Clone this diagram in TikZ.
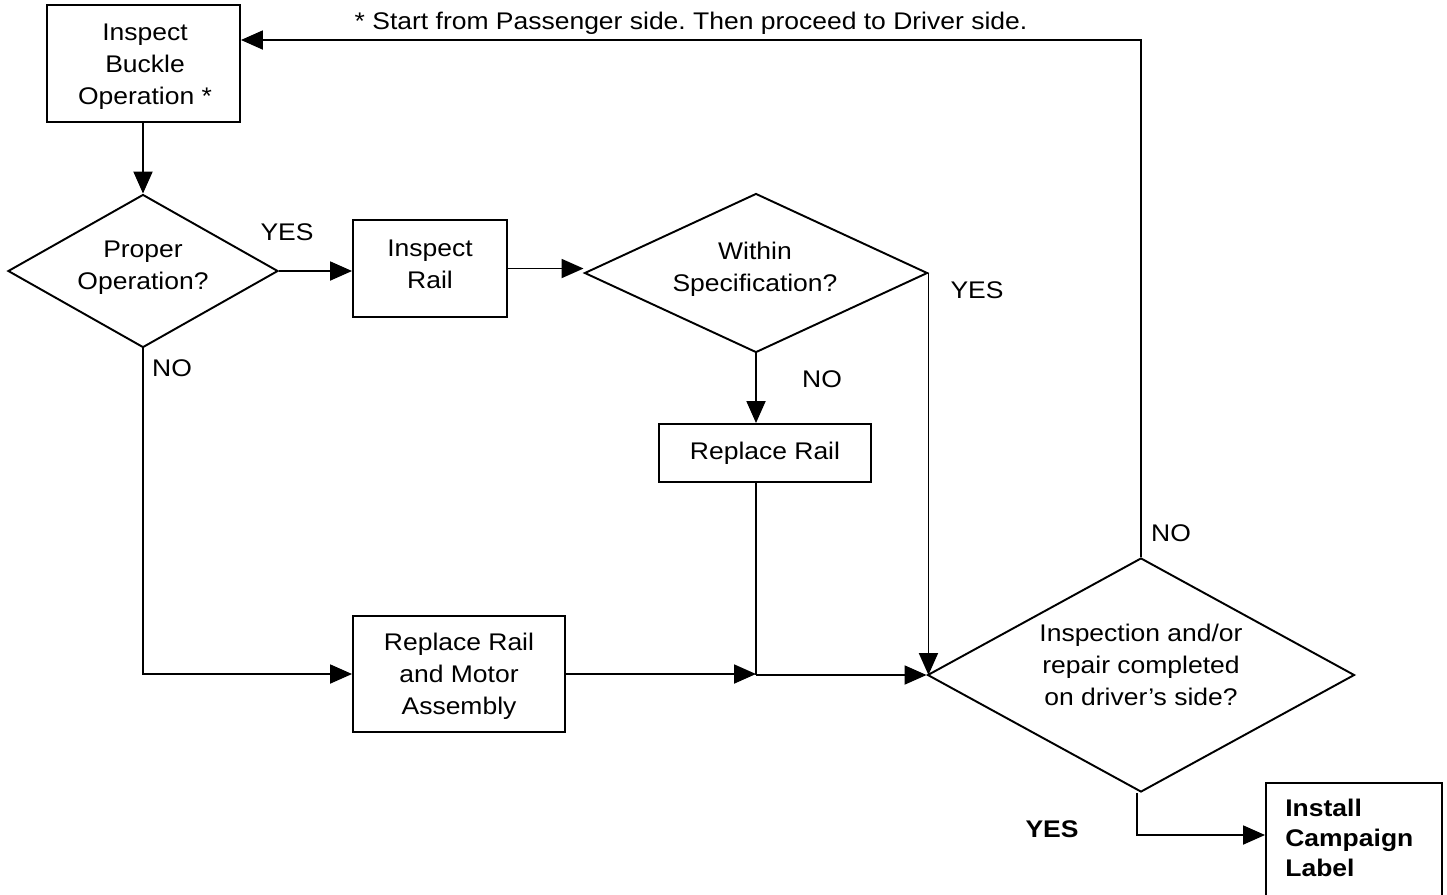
\documentclass[tikz,border=0pt]{standalone}
\usepackage{fontspec}
\setmainfont[FakeStretch=1.1]{Liberation Sans}
\usetikzlibrary{shapes.geometric,arrows.meta}
\frenchspacing
\begin{document}
\begin{tikzpicture}[x=0.02cm,y=-0.02cm,
  every node/.style={font=\fontsize{13.7}{18.2}\selectfont},
  box/.style={draw,line width=1.1pt,rectangle,inner sep=0pt},
  dia/.style={draw,line width=1.1pt,diamond,inner sep=0pt},
  txt/.style={align=center,inner sep=0pt},
  lbl/.style={inner sep=0pt},
  conn/.style={line width=1.1pt},
  arr/.style={line width=1.1pt,-{Triangle[length=0.44cm,width=0.38cm]}}]
\path[use as bounding box] (0,0) rectangle (1447,894);
% boxes
\node[box,minimum width=193*0.02cm,minimum height=117*0.02cm] (b1) at (143.5,63.5) {};
\node[txt] (b1t) at (145,67) {Inspect\\Buckle\\Operation *};
\node[box,minimum width=154*0.02cm,minimum height=97*0.02cm] (b2) at (430,268.5) {};
\node[txt] (b2t) at (430,264.5) {Inspect\\Rail};
\node[box,minimum width=212*0.02cm,minimum height=58*0.02cm] (b3) at (765,453) {};
\node[txt] (b3t) at (765,453.5) {Replace Rail};
\node[box,minimum width=212*0.02cm,minimum height=116*0.02cm] (b4) at (459,674) {};
\node[txt] (b4t) at (459,676.5) {Replace Rail\\and Motor\\Assembly};
\node[box,minimum width=176*0.02cm,minimum height=117*0.02cm] (b5) at (1354,841.5) {};
\node[lbl,anchor=north west,align=left,font=\fontsize{13.7}{17}\selectfont\bfseries] (b5t) at (1285,799) {Install\\Campaign\\Label};
% diamonds
\node[dia,minimum width=270*0.02cm,minimum height=153*0.02cm] (d1) at (143,271) {};
\node[txt] (d1t) at (143,268) {Proper\\Operation?};
\node[dia,minimum width=343*0.02cm,minimum height=159*0.02cm] (d2) at (756,273) {};
\node[txt] (d2t) at (755,269) {Within\\Specification?};
\node[dia,minimum width=427*0.02cm,minimum height=234*0.02cm] (d3) at (1141,675) {};
\node[txt] (d3t) at (1141,664.5) {Inspection and/or\\repair completed\\on driver's side?};
% labels
\node[lbl] (t0) at (691,23) {* Start from Passenger side. Then proceed to Driver side.};
\node[lbl] (y1) at (287,232) {YES};
\node[lbl] (y2) at (977,290) {YES};
\node[lbl] (n1) at (172,368) {NO};
\node[lbl] (n2) at (822,379) {NO};
\node[lbl] (n3) at (1171,533) {NO};
\node[lbl,font=\fontsize{13.7}{18.2}\selectfont\bfseries] (y3) at (1052,829) {YES};
% coordinates
\coordinate (loopy) at (240,40);
\coordinate (j) at (756,675);
\coordinate (yb) at (1137,835);
% connectors
\draw[arr] (b1.south -| d1.north) -- (d1.north);
\draw[arr] (d1.east) -- (d1.east -| b2.west);
\draw[arr] (b2.east) -- (b2.east -| d2.west);
\draw[arr] (d2.south) -- (d2.south |- b3.north);
\draw[arr] (d2.east) -- (d2.east |- d3.west);
\draw[arr] (d1.south) |- (b4.west);
\draw[arr] (b4.east) -- (b4.east -| j);
\draw[conn] (d2.south |- b3.south) -- (j);
\draw[arr] (j) -- (d3.west);
\draw[arr] (d3.north) -- (d3.north |- loopy) -- (b1.east |- loopy);
\draw[arr] (d3.south -| yb) -- (yb) -- (b5.west |- yb);
\end{tikzpicture}
\end{document}
